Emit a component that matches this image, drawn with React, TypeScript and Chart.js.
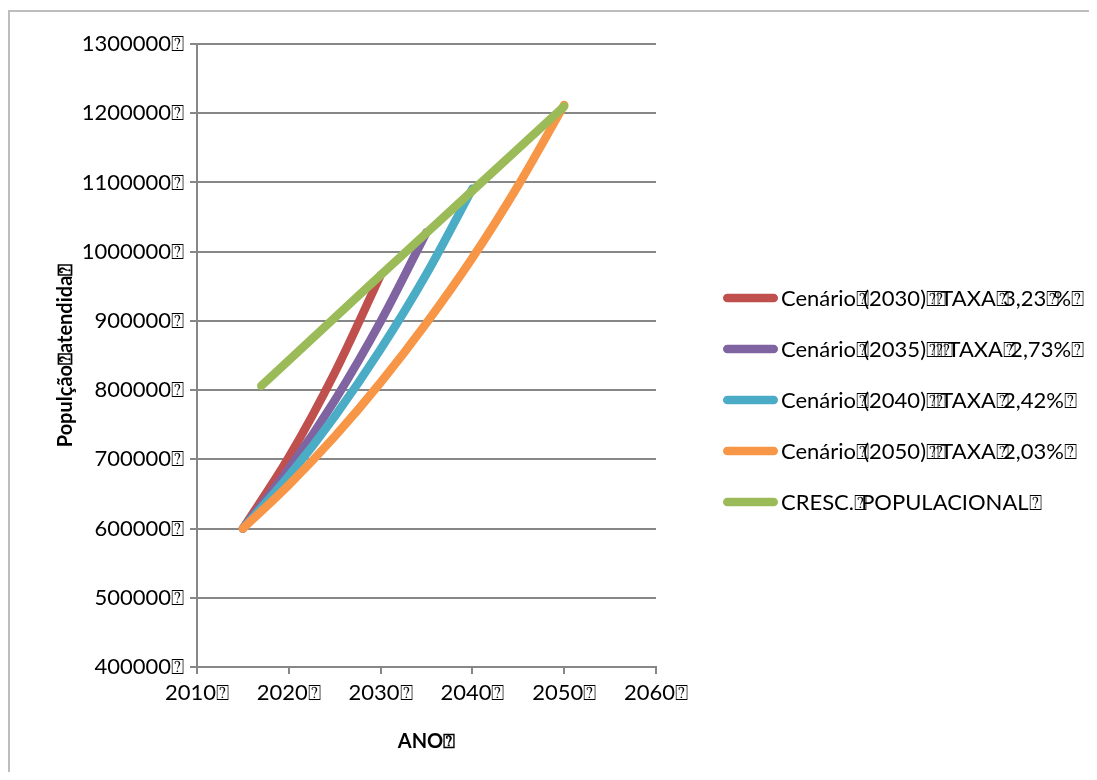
import React, { useEffect, useRef } from "react";
import { Chart, registerables } from "chart.js";

Chart.register(...registerables);

// Placeholder glyph that appears after each label in this chart
const Q = "\u2370";

const FONT = "Lato, 'Open Sans', 'Liberation Sans', sans-serif";

// Axis ranges and ticks
const xTicks = [2010, 2020, 2030, 2040, 2050, 2060];
const yMin = 400000;
const yMax = 1300000;
const yStep = 100000;

// Series: years and served population
const years2030 = [2015, 2020, 2025, 2030];
const pop2030 = [600000, 703000, 825000, 966000];

const years2035 = [2015, 2020, 2025, 2030, 2035];
const pop2035 = [600000, 686000, 785000, 899000, 1028000];

const years2040 = [2015, 2020, 2025, 2030, 2035, 2040];
const pop2040 = [600000, 676000, 762000, 859000, 968000, 1091000];

const years2050 = [2015, 2020, 2025, 2030, 2035, 2040, 2045, 2050];
const pop2050 = [600000, 663000, 733000, 811000, 897000, 991000, 1096000, 1212000];

const yearsGrowth = [2017, 2020, 2030, 2040, 2050];
const popGrowth = [806000, 843000, 966000, 1088000, 1210000];

const seriesLabels = [
  `Cenário${Q}(2030)${Q}${Q}TAXA${Q}3,23${Q}%${Q}`,
  `Cenário${Q}(2035)${Q}${Q}${Q}TAXA${Q}2,73%${Q}`,
  `Cenário${Q}(2040)${Q}${Q}TAXA${Q}2,42%${Q}`,
  `Cenário${Q}(2050)${Q}${Q}TAXA${Q}2,03%${Q}`,
  `CRESC.${Q}POPULACIONAL${Q}`,
];
const seriesColors = ["#C0504D", "#8064A2", "#4BACC6", "#F79646", "#9BBB59"];

const toPoints = (xs: number[], ys: number[]) => xs.map((x, i) => ({ x, y: ys[i] }));

const W = 1081;
const H = 764;
const LINE_W = 8.5;

// Frame around the whole chart and legend at the right
const framePlugin = {
  id: "frame",
  beforeDraw(chart: any) {
    const { ctx } = chart;
    ctx.save();
    ctx.strokeStyle = "#bdbdbd";
    ctx.lineWidth = 2;
    ctx.beginPath();
    ctx.moveTo(1, H + 5);
    ctx.lineTo(1, 3);
    ctx.lineTo(W + 5, 3);
    ctx.stroke();
    ctx.restore();
  },
};

// Draws a label where the placeholder glyph only advances part of its width
function drawTight(ctx: CanvasRenderingContext2D, text: string, x: number, y: number) {
  const parts = text.split(Q);
  let cx = x;
  const qw = ctx.measureText(Q).width;
  parts.forEach((p, i) => {
    if (p) {
      ctx.fillText(p, cx, y);
      cx += ctx.measureText(p).width;
    }
    if (i < parts.length - 1) {
      ctx.fillText(Q, cx, y);
      cx += qw * 0.55;
    }
  });
}

const legendPlugin = {
  id: "sideLegend",
  afterDraw(chart: any) {
    const { ctx } = chart;
    const x0 = 715;
    const lineLen = 55;
    const top = 290;
    const gap = 51;
    ctx.save();
    ctx.font = `22px ${FONT}`;
    ctx.textBaseline = "middle";
    ctx.textAlign = "left";
    chart.data.datasets.forEach((ds: any, i: number) => {
      const y = top + i * gap;
      ctx.strokeStyle = ds.borderColor;
      ctx.lineWidth = LINE_W;
      ctx.lineCap = "round";
      ctx.beginPath();
      ctx.moveTo(x0 + LINE_W / 2, y);
      ctx.lineTo(x0 + lineLen - LINE_W / 2, y);
      ctx.stroke();
      ctx.fillStyle = "#000";
      drawTight(ctx, ds.label, x0 + lineLen + 3, y + 1);
    });
    ctx.restore();
  },
};

export default function App() {
  const ref = useRef<HTMLCanvasElement>(null);

  useEffect(() => {
    if (!ref.current) return;
    const series = [
      toPoints(years2030, pop2030),
      toPoints(years2035, pop2035),
      toPoints(years2040, pop2040),
      toPoints(years2050, pop2050),
      toPoints(yearsGrowth, popGrowth),
    ];
    const gridColor = "#878787";
    const chart = new Chart(ref.current, {
      type: "line",
      data: {
        datasets: series.map((data, i) => ({
          label: seriesLabels[i],
          data,
          borderColor: seriesColors[i],
          backgroundColor: seriesColors[i],
          borderWidth: LINE_W,
          borderCapStyle: "round",
          borderJoinStyle: "round",
          pointRadius: 0,
          pointHoverRadius: 0,
          cubicInterpolationMode: "monotone",
          fill: false,
          order: series.length - 1 - i,
        })),
      },
      options: {
        responsive: false,
        animation: false,
        events: [],
        layout: { padding: { left: 0, top: 36, right: W - 648, bottom: 0 } },
        plugins: {
          legend: { display: false },
          tooltip: { enabled: false },
        },
        scales: {
          x: {
            type: "linear",
            min: xTicks[0],
            max: xTicks[xTicks.length - 1],
            afterBuildTicks: (s: any) => {
              s.ticks = xTicks.map((v) => ({ value: v }));
            },
            ticks: {
              callback: (v: any) => `${v}${Q}`,
              color: "#000",
              font: { size: 22, family: FONT },
              padding: 6,
              maxRotation: 0,
            },
            grid: { drawOnChartArea: false, color: gridColor, lineWidth: 2, tickLength: 7 },
            border: { color: gridColor, width: 2 },
            title: {
              display: true,
              text: `ANO${Q}`,
              color: "#000",
              font: { size: 20, weight: "bold", family: FONT },
              padding: { top: 12, bottom: 18 },
            },
            afterFit: (s: any) => {
              s.height = H - 659;
            },
          },
          y: {
            min: yMin,
            max: yMax,
            ticks: {
              stepSize: yStep,
              callback: (v: any) => `${v}${Q}`,
              color: "#000",
              font: { size: 22, family: FONT },
              padding: 6,
            },
            grid: { color: gridColor, lineWidth: 2, tickLength: 7 },
            border: { color: gridColor, width: 2 },
            title: {
              display: true,
              text: `Populção${Q}atendida${Q}`,
              color: "#000",
              font: { size: 20, weight: "bold", family: FONT },
              padding: { top: 46, bottom: 0 },
            },
            afterFit: (s: any) => {
              s.width = 189;
            },
          },
        },
      } as any,
      plugins: [framePlugin, legendPlugin],
    });
    return () => chart.destroy();
  }, []);

  return (
    <div style={{ width: W, height: H, fontFamily: FONT }}>
      <canvas ref={ref} width={W} height={H} style={{ width: W, height: H, display: "block" }} />
    </div>
  );
}
